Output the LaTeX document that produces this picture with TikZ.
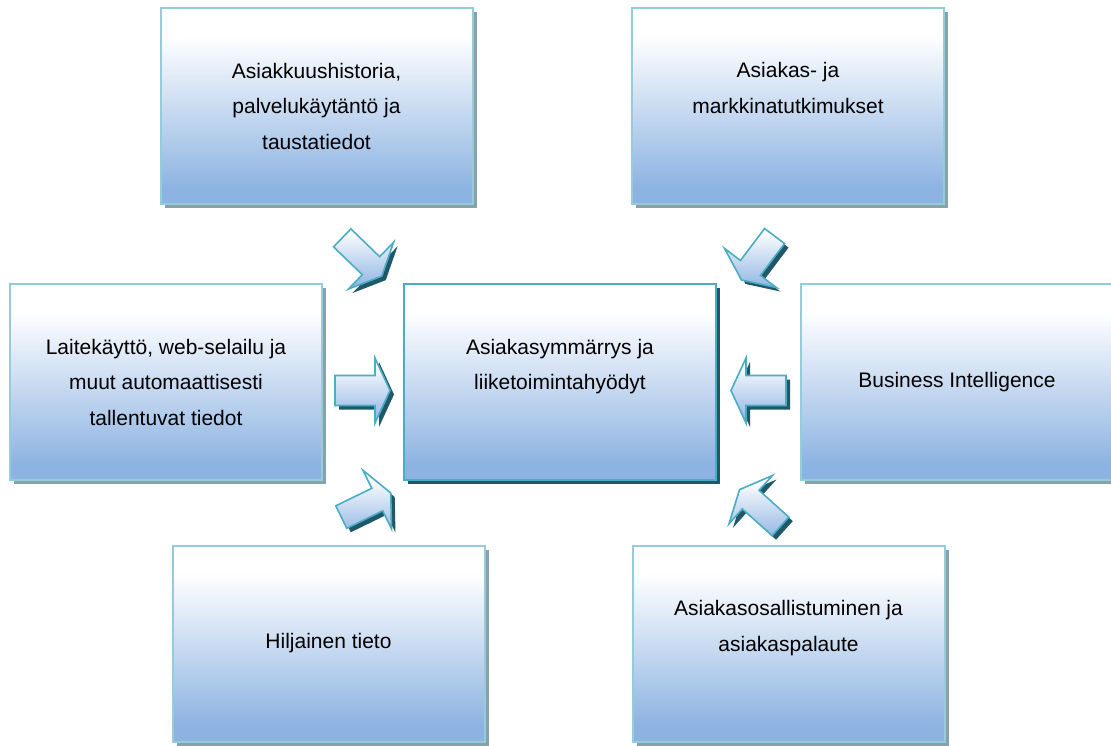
\documentclass[tikz,border=0pt]{standalone}
\usepackage{fontspec}
\setmainfont{Liberation Sans}
\usetikzlibrary{shadows}

\definecolor{boxblue}{RGB}{141,179,226}
\definecolor{paleedge}{RGB}{146,205,220}
\definecolor{tealedge}{RGB}{75,172,198}
\definecolor{paleshadow}{RGB}{137,162,170}
\definecolor{darkshadow}{RGB}{33,88,104}

% white at the top, blue at the bottom
\pgfdeclareverticalshading{boxgrad}{100bp}{%
  color(0bp)=(boxblue); color(29bp)=(boxblue);
  color(68bp)=(white); color(100bp)=(white)}

% block arrow: centre x, centre y, direction angle, half shaft width
\newcommand\flowarrow[4]{%
  \fill[darkshadow, shift={(#1+4,#2+4)}, rotate=#3]
    (-27.5,-#4) -- (12.5,-#4) -- (12.5,-32.5) -- (27.5,0) -- (12.5,32.5)
    -- (12.5,#4) -- (-27.5,#4) -- cycle;
  \begin{scope}
    \clip[shift={(#1,#2)}, rotate=#3]
      (-27.5,-#4) -- (12.5,-#4) -- (12.5,-32.5) -- (27.5,0) -- (12.5,32.5)
      -- (12.5,#4) -- (-27.5,#4) -- cycle;
    \shade[shading=boxgrad] (#1-44,#2-38) rectangle (#1+44,#2+38);
  \end{scope}
  \draw[tealedge, line width=1.6pt, line join=miter, shift={(#1,#2)}, rotate=#3]
    (-27.5,-#4) -- (12.5,-#4) -- (12.5,-32.5) -- (27.5,0) -- (12.5,32.5)
    -- (12.5,#4) -- (-27.5,#4) -- cycle;
}

\begin{document}
\begin{tikzpicture}[x=1pt,y=-1pt,
  infobox/.style={shade, shading=boxgrad, draw=paleedge, line width=2pt,
    minimum width=312pt, minimum height=196pt, inner sep=0pt, align=center,
    font=\fontsize{21}{35.5}\selectfont,
    drop shadow={shadow xshift=4pt, shadow yshift=-4pt, fill=paleshadow, opacity=1}},
  corebox/.style={infobox, draw=tealedge,
    drop shadow={shadow xshift=4pt, shadow yshift=-4pt, fill=darkshadow, opacity=1}}]

\useasboundingbox (0,0) rectangle (1111,745);

% source boxes
\node[infobox] (history) at (316.5,106)
  {Asiakkuushistoria,\\palvelukäytäntö ja\\taustatiedot};
\node[infobox] (research) at (788,105.5)
  {Asiakas- ja\\markkinatutkimukset\\\mbox{}};
\node[infobox] (usage) at (166,382)
  {Laitekäyttö, web-selailu ja\\muut automaattisesti\\tallentuvat tiedot};
\node[infobox] (bi) at (957,382) {Business Intelligence};
\node[infobox] (tacit) at (328.5,643.5) {Hiljainen tieto};
\node[infobox] (feedback) at (788.5,643.5)
  {Asiakasosallistuminen ja\\asiakaspalaute\\\mbox{}};

% central box
\node[corebox] (core) at (560,382)
  {Asiakasymmärrys ja\\liiketoimintahyödyt\\\mbox{}};

% arrows pointing at the central box
\flowarrow{362}{257}{-44}{12.5}
\flowarrow{758}{258}{-127}{12.5}
\flowarrow{362.5}{390.5}{0}{15}
\flowarrow{758.5}{390.5}{180}{15}
\flowarrow{366}{505}{26}{12.5}
\flowarrow{760}{508}{138}{12.5}

\end{tikzpicture}
\end{document}
